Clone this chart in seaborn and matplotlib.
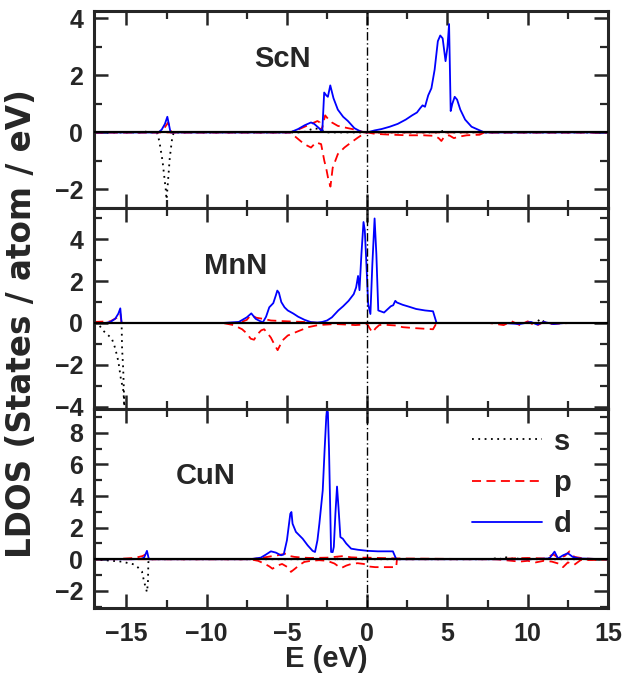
import matplotlib
matplotlib.use("Agg")
import matplotlib.pyplot as plt
from matplotlib.ticker import MultipleLocator
import numpy as np
import pandas as pd
import seaborn as sns

# ---------------- data ----------------
# ScN
scn_s_E = [-17.0, -13.9, -13.7, -13.5, -13.1, -12.95, -12.75, -12.55, -12.5, -12.42, -12.3, -12.15, -12.05,
           -4.0, -3.3, -2.9, -2.5, 4.5, 4.7, 5.0, 15.0]
scn_s = [0, 0, 0.05, 0, 0, -0.3, -1.0, -2.0, -2.35, -1.8, -0.9, -0.2, 0,
         0, 0.15, 0.1, 0, 0, 0.05, 0, 0]
scn_p_pos_E = [-17.0, -13.0, -12.7, -12.4, -12.2, -4.8, -4.3, -3.7, -3.1, -2.95, -2.85, -2.62, -2.4, -2.2,
               -1.83, -1.2, -0.6, -0.2, 15.0]
scn_p_pos = [0, 0, 0.1, 0.35, 0, 0, 0.1, 0.25, 0.4, 0.35, 0.05, 0.6, 0.45, 0.35,
             0.23, 0.15, 0.08, 0, 0]
scn_p_neg_E = [-17.0, -4.8, -4.54, -3.92, -3.5, -3.19, -2.87, -2.67, -2.56, -2.42, -2.29, -2.15, -1.83,
               -1.42, -1.0, -0.58, -0.17, 0.0, 0.5, 1.5, 2.5, 3.5, 4.2, 4.45, 4.62, 4.8, 5.1, 5.4, 5.7,
               6.2, 7.0, 7.3, 15.0]
scn_p_neg = [0, 0, -0.12, -0.41, -0.53, -0.35, -0.41, -1.0, -1.24, -1.65, -1.9, -1.24, -0.76,
             -0.53, -0.35, -0.18, -0.03, 0, -0.05, -0.08, -0.1, -0.1, -0.12, -0.2, -0.3, -0.15, -0.1, -0.2, -0.15,
             -0.1, -0.08, 0, 0]
scn_d_E = [-17.0, -13.0, -12.8, -12.6, -12.45, -12.25, -4.8, -4.3, -3.9, -3.5, -3.3, -3.0, -2.8, -2.68,
           -2.55, -2.45, -2.3, -2.1, -1.83, -1.5, -1.2, -0.8, -0.4, 0.0, 0.45, 0.9, 1.4, 1.9, 2.4,
           2.8, 3.1, 3.3, 3.45, 3.6, 3.8, 4.0, 4.2, 4.4, 4.55, 4.7, 4.88, 5.0, 5.1, 5.2, 5.3, 5.45,
           5.6, 5.8, 6.1, 6.5, 6.9, 7.3, 15.0]
scn_d = [0, 0, 0.1, 0.3, 0.55, 0, 0, 0.12, 0.25, 0.35, 0.3, 0.15, 0.02, 1.4,
         1.3, 1.25, 1.65, 1.2, 0.8, 0.55, 0.4, 0.15, 0.03, 0, 0.07, 0.12, 0.2, 0.3, 0.45,
         0.6, 0.7, 0.85, 0.95, 0.9, 1.3, 1.55, 2.2, 3.2, 3.4, 3.3, 2.5, 3.0, 3.8, 0.75, 1.0, 1.25,
         1.15, 0.8, 0.45, 0.2, 0.1, 0, 0]

# MnN
mnn_s_E = [-17.0, -16.7, -16.44, -16.2, -15.92, -15.7, -15.5, -15.35, -15.18, -15.1, -15.2, -15.27,
           -15.29, -15.3, 10.5, 10.8, 11.1, 15.0]
mnn_s = [0, -0.1, -0.37, -0.55, -0.72, -1.2, -1.84, -2.64, -3.28, -4.6, -2.2, -1.2,
         -0.4, 0, 0, 0.2, 0, 0]
mnn_p_pos_E = [-17.0, -16.0, -15.6, -15.38, -15.3, -8.0, -7.5, -7.25, -6.9, -6.5, -6.0, -5.0, -4.0,
               -3.0, 15.0]
mnn_p_pos = [0.05, 0.08, 0.25, 0.45, 0, 0, 0.15, 0.38, 0.25, 0.2, 0.12, 0.08, 0.05,
             0, 0]
mnn_p_neg_E = [-17.0, -9.0, -8.32, -7.79, -7.5, -7.26, -7.05, -6.85, -6.6, -6.42, -6.2, -6.0, -5.8,
               -5.58, -5.45, -5.3, -4.95, -4.32, -3.68, -3.05, -2.0, -1.2, -0.74, -0.3, 0.0, 0.15,
               0.32, 0.53, 0.75, 1.0, 1.79, 2.21, 3.05, 4.1, 4.32, 7.6, 8.5, 9.0, 9.5, 10.0, 10.5,
               11.0, 11.5, 12.6, 15.0]
mnn_p_neg = [0, 0, -0.1, -0.3, -0.5, -0.75, -0.8, -0.55, -0.35, -0.3, -0.5, -0.7, -1.0,
             -1.3, -1.1, -0.85, -0.6, -0.4, -0.2, -0.1, -0.05, -0.08, -0.1, -0.08, -0.05, -0.25,
             -0.45, -0.25, -0.1, -0.08, -0.12, -0.2, -0.25, -0.3, 0, 0, -0.1, 0.08, -0.1, 0.08, -0.15,
             0.05, -0.05, 0, 0]
mnn_d_E = [-17.0, -16.3, -16.0, -15.7, -15.5, -15.38, -15.3, -9.0, -8.0, -7.5, -7.22, -6.95, -6.7,
           -6.5, -6.3, -6.1, -5.85, -5.7, -5.6, -5.5, -5.35, -5.15, -4.95, -4.6, -4.3, -3.9, -3.5,
           -3.1, -2.8, -2.5, -2.2, -1.8, -1.5, -1.16, -0.84, -0.69, -0.57, -0.48, -0.36, -0.23,
           -0.15, -0.06, 0.06, 0.2, 0.32, 0.46, 0.57, 0.69, 1.05, 1.47, 1.62, 1.75, 1.85, 2.21,
           2.6, 3.05, 3.6, 4.1, 4.32, 8.5, 9.5, 10.2, 10.6, 11.0, 11.6, 12.3, 15.0]
mnn_d = [0, 0, 0.05, 0.2, 0.45, 0.7, 0, 0, 0.05, 0.27, 0.46, 0.2, 0.1,
         0.03, 0.3, 0.75, 0.95, 1.3, 1.55, 1.45, 1.0, 0.75, 0.6, 0.45, 0.3, 0.15, 0.04,
         0.02, 0.05, 0.12, 0.27, 0.6, 0.8, 1.06, 1.38, 1.7, 2.25, 1.57, 3.3, 4.83,
         4.43, 3.0, 0.9, 0.43, 2.8, 5.0, 3.3, 0.6, 0.5, 0.8, 0.85, 1.06, 0.98, 0.87,
         0.78, 0.67, 0.6, 0.56, 0, 0, -0.05, 0.05, -0.08, 0.05, -0.05, 0, 0]

# CuN
cun_s_E = [-17.0, -16.5, -15.9, -15.3, -14.55, -14.3, -14.03, -13.9, -13.72, -13.66, -13.64, -13.63,
           -13.6, -1.95, -1.9, -1.85, 7.8, 8.1, 8.4, 8.6, 8.9, 9.2, 9.5, 11.2, 11.4, 11.6, 15.0]
cun_s = [0, -0.05, -0.1, -0.15, -0.32, -0.5, -0.78, -1.41, -2.08, -1.5, -0.6, -0.2,
         0, 0, 0.2, 0, 0, 0.1, 0, 0.15, 0, 0.1, 0, 0, 0.1, 0, 0]
cun_p_pos_E = [-17.0, -15.5, -14.5, -14.0, -13.72, -13.6, -7.3, -6.8, -6.2, -5.58, -5.06, -4.8, -4.54,
               -4.0, -3.5, -2.5, -2.0, -1.5, -1.0, -0.5, 0.0, 1.8, 8.0, 9.0, 10.0, 11.0, 11.6, 11.9,
               12.3, 12.6, 12.9, 13.5, 14.5, 15.0]
cun_p_pos = [0, 0.02, 0.08, 0.2, 0.35, 0, 0, 0.05, 0.15, 0.25, 0.36, 0.2, 0.15,
             0.1, 0.08, 0.1, 0.15, 0.2, 0.12, 0.1, 0.1, 0.05, 0, 0.05, 0.08, 0.05, 0.3, 0.1,
             0.2, 0.5, 0.15, 0.05, 0, 0]
cun_p_neg_E = [-17.0, -7.3, -6.8, -6.42, -6.1, -5.9, -5.6, -5.3, -4.96, -4.75, -4.5, -4.2, -3.92,
               -3.5, -3.0, -2.5, -2.04, -1.8, -1.6, -1.3, -1.0, -0.6, -0.2, 0.0, 0.5, 1.08, 1.81,
               1.85, 8.0, 8.5, 9.5, 10.0, 10.5, 11.0, 11.5, 12.0, 12.2, 12.5, 12.9, 13.3, 14.0, 15.0]
cun_p_neg = [0, 0, -0.1, -0.27, -0.45, -0.6, -0.4, -0.3, -0.5, -0.8, -0.6, -0.35, -0.17,
             -0.1, -0.06, -0.1, -0.27, -0.45, -0.55, -0.4, -0.3, -0.25, -0.3, -0.45, -0.5, -0.5, -0.5,
             0, 0, -0.05, -0.15, -0.1, -0.2, -0.1, -0.15, -0.3, -0.5, -0.2, -0.35, -0.05, -0.05, 0]
cun_d_E = [-17.0, -14.54, -14.1, -13.9, -13.72, -13.6, -7.29, -6.63, -6.3, -6.0, -5.69, -5.37, -5.2,
           -5.0, -4.79, -4.72, -4.65, -4.44, -4.02, -3.71, -3.4, -3.25, -3.1, -2.98, -2.77, -2.65,
           -2.55, -2.5, -2.45, -2.38, -2.3, -2.25, -2.15, -2.08, -1.98, -1.88, -1.79, -1.67, -1.52,
           -1.31, -1.0, -0.58, 0.04, 0.67, 1.6, 1.81, 10.1, 11.35, 11.67, 11.88, 12.2, 12.5, 12.8,
           13.2, 14.9, 15.0]
cun_d = [0, 0, 0.02, 0.1, 0.53, 0, 0, 0.1, 0.3, 0.5, 0.42, 0.25, 0.3,
         1.2, 2.88, 2.99, 2.25, 1.73, 1.3, 0.88, 0.53, 0.46, 1.2, 2.25, 4.36, 7.0,
         9.0, 9.45, 9.3, 7.0, 3.0, 0.46, 0.45, 0.78, 2.9, 4.6, 3.3, 1.4, 1.3,
         1.0, 0.67, 0.6, 0.53, 0.5, 0.5, 0, 0, 0.05, 0.48, 0.05, 0.25, 0.38, 0.15,
         0.05, 0, 0]

panel_names = ["ScN", "MnN", "CuN"]
panel_ylims = [(-2.65, 4.26), (-4.1, 5.5), (-3.07, 9.53)]
panel_label_pos = [(-5.25, 2.59), (-8.18, 2.72), (-10.06, 5.3)]
x_ticks = [-15, -10, -5, 0, 5, 10, 15]

panels = [
    dict(s=[(scn_s_E, scn_s)], p=[(scn_p_pos_E, scn_p_pos), (scn_p_neg_E, scn_p_neg)], d=[(scn_d_E, scn_d)]),
    dict(s=[(mnn_s_E, mnn_s)], p=[(mnn_p_pos_E, mnn_p_pos), (mnn_p_neg_E, mnn_p_neg)], d=[(mnn_d_E, mnn_d)]),
    dict(s=[(cun_s_E, cun_s)], p=[(cun_p_pos_E, cun_p_pos), (cun_p_neg_E, cun_p_neg)], d=[(cun_d_E, cun_d)]),
]

# ---------------- styling ----------------
sns.set_style("ticks")
plt.rcParams["font.family"] = ["Liberation Sans", "DejaVu Sans"]
plt.rcParams["font.weight"] = "bold"
plt.rcParams["axes.labelweight"] = "bold"

styles = {
    "s": dict(color="black", linestyle=(0, (1, 2.5)), lw=1.3),
    "p": dict(color="#ff0000", linestyle=(0, (5, 3)), lw=1.3),
    "d": dict(color="#0000ff", linestyle="-", lw=1.3),
}

fig = plt.figure(figsize=(6.22, 6.82), dpi=100)
gs = fig.add_gridspec(3, 1, left=0.1516, right=0.9775, top=0.9839, bottom=0.1089,
                      hspace=0, height_ratios=[197, 200.7, 199])
axes = []
for i in range(3):
    ax = fig.add_subplot(gs[i], sharex=axes[0] if axes else None)
    axes.append(ax)

for i, ax in enumerate(axes):
    data = panels[i]
    for key in ["s", "p", "d"]:
        for j, (E, v) in enumerate(data[key]):
            df = pd.DataFrame({"E": E, "LDOS": v})
            lbl = key if (i == 2 and j == 0) else None
            sns.lineplot(data=df, x="E", y="LDOS", ax=ax, sort=False, estimator=None,
                         label=lbl, zorder=2, **styles[key])
    ax.axhline(0, color="black", lw=1.6, zorder=3)
    ax.axvline(0, color="black", lw=1.0, linestyle=(0, (6, 2, 1, 2)), zorder=3)
    ax.set_xlim(-17, 15)
    ax.set_ylim(*panel_ylims[i])
    ax.set_xticks(x_ticks)
    ax.xaxis.set_minor_locator(MultipleLocator(2.5))
    ax.yaxis.set_major_locator(MultipleLocator(2))
    ax.yaxis.set_minor_locator(MultipleLocator(1))
    ax.tick_params(which="both", direction="in", top=True, right=True, labelsize=18)
    ax.tick_params(axis="y", pad=8)
    ax.tick_params(axis="x", pad=10)
    ax.tick_params(which="major", length=10, width=1.8)
    ax.tick_params(which="minor", length=5.5, width=1.6)
    for sp in ax.spines.values():
        sp.set_linewidth(2.2)
    ax.set_ylabel("")
    ax.set_xlabel("")
    tx, ty = panel_label_pos[i]
    ax.text(tx, ty, panel_names[i], ha="center", va="center", fontsize=21, fontweight="bold")
    if i < 2:
        ax.tick_params(labelbottom=False)
        leg = ax.get_legend()
        if leg is not None:
            leg.remove()

ax = axes[2]
handles, labels = ax.get_legend_handles_labels()
ax.legend(handles, labels, loc="upper left", bbox_to_anchor=(0.735, 0.905), frameon=False,
          handlelength=2.4, handletextpad=0.4, labelspacing=0.45,
          borderpad=0, borderaxespad=0, prop=dict(weight="bold", size=21))
ax.set_xlabel("E (eV)", fontsize=21, fontweight="bold", labelpad=2)
ax.xaxis.set_label_coords(0.451, -0.185)

fig.text(0.035, 0.525, "LDOS (States / atom / eV)", rotation=90, ha="center", va="center",
         fontsize=23.5, fontweight="bold", family=["DejaVu Sans"])

fig.savefig("out.png", dpi=100)
